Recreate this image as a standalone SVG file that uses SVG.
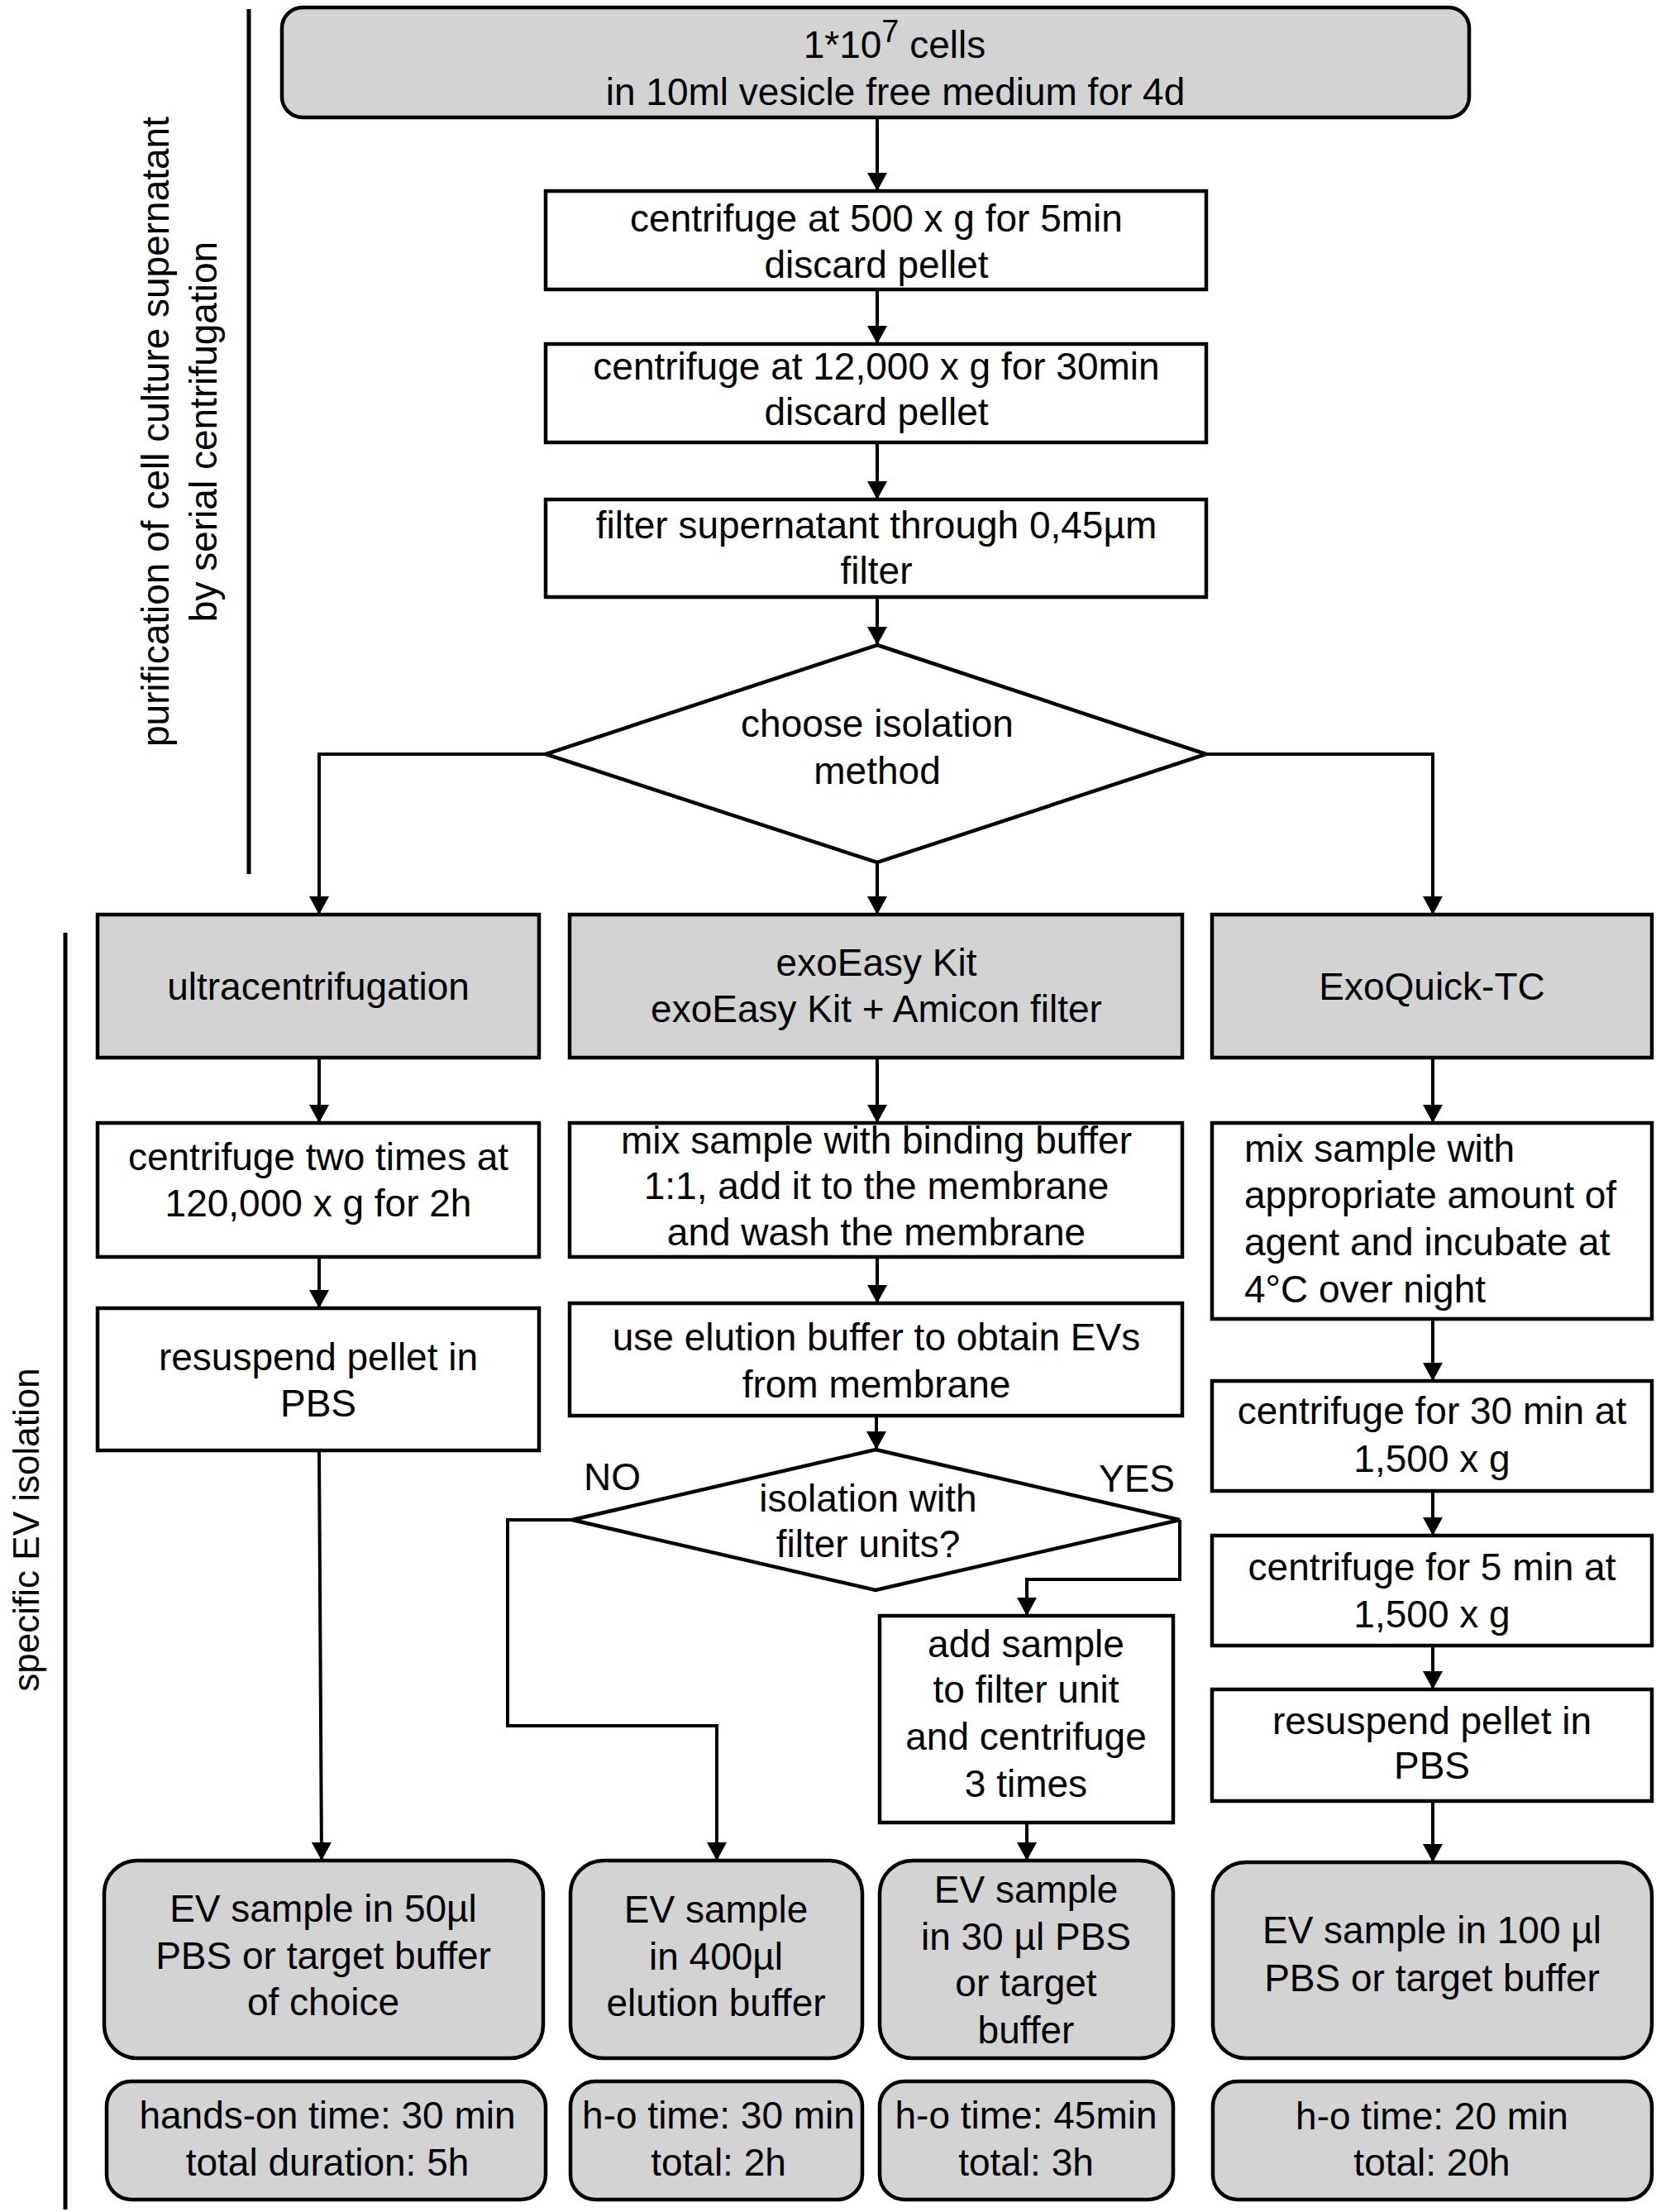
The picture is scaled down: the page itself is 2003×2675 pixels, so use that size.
<svg xmlns="http://www.w3.org/2000/svg" width="2003" height="2675" viewBox="0 0 2003 2675">
<defs>
<marker id="ah" viewBox="0 0 22 24" refX="22" refY="12" markerWidth="22" markerHeight="24" orient="auto" markerUnits="userSpaceOnUse">
<path d="M0,0 L22,12 L0,24 z" fill="#000"/>
</marker>
</defs>
<style>
.box{fill:#fff;stroke:#000;stroke-width:4.5}
.gbox{fill:#d3d3d3;stroke:#000;stroke-width:4.5}
.t{font-family:"Liberation Sans",Arial,Helvetica,sans-serif;font-size:46px;text-anchor:middle;fill:#000}
.tl{font-family:"Liberation Sans",Arial,Helvetica,sans-serif;font-size:46px;text-anchor:start;fill:#000}
.ln{fill:none;stroke:#000;stroke-width:4}
.arr{marker-end:url(#ah)}
.bar{stroke:#000;stroke-width:5}
</style>
<rect width="2003" height="2675" fill="#fff"/>

<g id="side-labels">
<line class="bar" x1="301" y1="11" x2="301" y2="1057"/>
<text class="t" transform="translate(204,522) rotate(-90)">purification of cell culture supernatant</text>
<text class="t" transform="translate(262,522) rotate(-90)">by serial centrifugation</text>
<line class="bar" x1="79" y1="1128" x2="79" y2="2672"/>
<text class="t" style="font-size:44px" transform="translate(47,1850) rotate(-90)">specific EV isolation</text>
</g>

<g id="connectors">
<path class="ln arr" d="M1061,142 V231"/>
<path class="ln arr" d="M1061,350 V416"/>
<path class="ln arr" d="M1061,535 V604"/>
<path class="ln arr" d="M1061,722 V780"/>
<path class="ln arr" d="M660,912 H386 V1106"/>
<path class="ln arr" d="M1061,1043 V1106"/>
<path class="ln arr" d="M1459,912 H1733 V1106"/>
<path class="ln arr" d="M386,1279 V1358"/>
<path class="ln arr" d="M1061,1279 V1358"/>
<path class="ln arr" d="M1733,1279 V1358"/>
<path class="ln arr" d="M386,1520 V1582"/>
<path class="ln arr" d="M1061,1520 V1576"/>
<path class="ln arr" d="M1733,1595 V1670"/>
<path class="ln arr" d="M1060,1712 V1753"/>
<path class="ln arr" d="M1733,1803 V1857"/>
<path class="ln arr" d="M1733,1990 V2043"/>
<path class="ln arr" d="M386,1754 L389,2250"/>
<path class="ln arr" d="M692,1838 H614 V2087 H867 V2250"/>
<path class="ln arr" d="M1427,1838 V1910 H1242 V1954"/>
<path class="ln arr" d="M1242,2204 V2250"/>
<path class="ln arr" d="M1733,2178 V2252"/>
<text class="tl" x="706" y="1802">NO</text>
<text class="tl" x="1329" y="1804">YES</text>
</g>

<g id="start">
<rect class="gbox" x="341" y="9" width="1436" height="133" rx="25"/>
<text class="t" x="1082" y="70">1*10<tspan dy="-19" style="font-size:38px">7</tspan><tspan dy="19"> cells</tspan></text>
<text class="t" x="1083" y="127">in 10ml vesicle free medium for 4d</text>
</g>

<g id="spin1">
<rect class="box" x="660" y="231" width="799" height="119"/>
<text class="t" x="1060" y="280">centrifuge at 500 x g for 5min</text>
<text class="t" x="1060" y="336">discard pellet</text>
</g>

<g id="spin2">
<rect class="box" x="660" y="416" width="799" height="119"/>
<text class="t" x="1060" y="459">centrifuge at 12,000 x g for 30min</text>
<text class="t" x="1060" y="514">discard pellet</text>
</g>

<g id="filter">
<rect class="box" x="660" y="604" width="799" height="118"/>
<text class="t" x="1060" y="651">filter supernatant through 0,45µm</text>
<text class="t" x="1060" y="706">filter</text>
</g>

<g id="choose">
<polygon class="box" points="1061,780 1459,912 1061,1043 660,912"/>
<text class="t" x="1061" y="891">choose isolation</text>
<text class="t" x="1061" y="948">method</text>
</g>

<g id="uc">
<rect class="gbox" x="118" y="1106" width="534" height="173"/>
<text class="t" x="385" y="1209">ultracentrifugation</text>
</g>
<g id="exoeasy">
<rect class="gbox" x="689" y="1106" width="741" height="173"/>
<text class="t" x="1060" y="1180">exoEasy Kit</text>
<text class="t" x="1060" y="1236">exoEasy Kit + Amicon filter</text>
</g>
<g id="exoquick">
<rect class="gbox" x="1466" y="1106" width="532" height="173"/>
<text class="t" x="1732" y="1209">ExoQuick-TC</text>
</g>

<g id="uc-spin">
<rect class="box" x="118" y="1358" width="534" height="162"/>
<text class="t" x="385" y="1415">centrifuge two times at</text>
<text class="t" x="385" y="1471">120,000 x g for 2h</text>
</g>
<g id="ee-bind">
<rect class="box" x="689" y="1358" width="741" height="162"/>
<text class="t" x="1060" y="1395">mix sample with binding buffer</text>
<text class="t" x="1060" y="1450">1:1, add it to the membrane</text>
<text class="t" x="1060" y="1506">and wash the membrane</text>
</g>
<g id="eq-mix">
<rect class="box" x="1466" y="1358" width="532" height="237"/>
<text class="tl" x="1505" y="1405">mix sample with</text>
<text class="tl" x="1505" y="1461">appropriate amount of</text>
<text class="tl" x="1505" y="1518">agent and incubate at</text>
<text class="tl" x="1505" y="1575">4°C over night</text>
</g>

<g id="uc-resuspend">
<rect class="box" x="118" y="1582" width="534" height="172"/>
<text class="t" x="385" y="1657">resuspend pellet in</text>
<text class="t" x="385" y="1713">PBS</text>
</g>
<g id="ee-elute">
<rect class="box" x="689" y="1576" width="741" height="136"/>
<text class="t" x="1060" y="1633">use elution buffer to obtain EVs</text>
<text class="t" x="1060" y="1690">from membrane</text>
</g>
<g id="filter-q">
<polygon class="box" points="1059,1753 1427,1838 1059,1923 692,1838"/>
<text class="t" x="1050" y="1828">isolation with</text>
<text class="t" x="1050" y="1883">filter units?</text>
</g>
<g id="ee-filterunit">
<rect class="box" x="1064" y="1954" width="355" height="250"/>
<text class="t" x="1241" y="2004">add sample</text>
<text class="t" x="1241" y="2059">to filter unit</text>
<text class="t" x="1241" y="2116">and centrifuge</text>
<text class="t" x="1241" y="2173">3 times</text>
</g>

<g id="eq-spin30">
<rect class="box" x="1466" y="1670" width="532" height="133"/>
<text class="t" x="1732" y="1722">centrifuge for 30 min at</text>
<text class="t" x="1732" y="1780">1,500 x g</text>
</g>
<g id="eq-spin5">
<rect class="box" x="1466" y="1857" width="532" height="133"/>
<text class="t" x="1732" y="1911">centrifuge for 5 min at</text>
<text class="t" x="1732" y="1968">1,500 x g</text>
</g>
<g id="eq-resuspend">
<rect class="box" x="1466" y="2043" width="532" height="135"/>
<text class="t" x="1732" y="2097">resuspend pellet in</text>
<text class="t" x="1732" y="2151">PBS</text>
</g>

<g id="uc-result">
<rect class="gbox" x="126" y="2250" width="531" height="239" rx="40"/>
<text class="t" x="391" y="2324">EV sample in 50µl</text>
<text class="t" x="391" y="2381">PBS or target buffer</text>
<text class="t" x="391" y="2437">of choice</text>
</g>
<g id="ee-result">
<rect class="gbox" x="690" y="2250" width="353" height="239" rx="40"/>
<text class="t" x="866" y="2325">EV sample</text>
<text class="t" x="866" y="2382">in 400µl</text>
<text class="t" x="866" y="2438">elution buffer</text>
</g>
<g id="eef-result">
<rect class="gbox" x="1064" y="2250" width="355" height="239" rx="40"/>
<text class="t" x="1241" y="2301">EV sample</text>
<text class="t" x="1241" y="2358">in 30 µl PBS</text>
<text class="t" x="1241" y="2414">or target</text>
<text class="t" x="1241" y="2471">buffer</text>
</g>
<g id="eq-result">
<rect class="gbox" x="1467" y="2252" width="531" height="237" rx="40"/>
<text class="t" x="1732" y="2350">EV sample in 100 µl</text>
<text class="t" x="1732" y="2408">PBS or target buffer</text>
</g>

<g id="uc-time">
<rect class="gbox" x="129" y="2517" width="531" height="143" rx="30"/>
<text class="t" x="396" y="2574">hands-on time: 30 min</text>
<text class="t" x="396" y="2631">total duration: 5h</text>
</g>
<g id="ee-time">
<rect class="gbox" x="690" y="2517" width="353" height="143" rx="30"/>
<text class="t" x="869" y="2574">h-o time: 30 min</text>
<text class="t" x="869" y="2631">total: 2h</text>
</g>
<g id="eef-time">
<rect class="gbox" x="1064" y="2517" width="355" height="143" rx="30"/>
<text class="t" x="1241" y="2574">h-o time: 45min</text>
<text class="t" x="1241" y="2631">total: 3h</text>
</g>
<g id="eq-time">
<rect class="gbox" x="1467" y="2517" width="531" height="143" rx="30"/>
<text class="t" x="1732" y="2575">h-o time: 20 min</text>
<text class="t" x="1732" y="2631">total: 20h</text>
</g>
</svg>
